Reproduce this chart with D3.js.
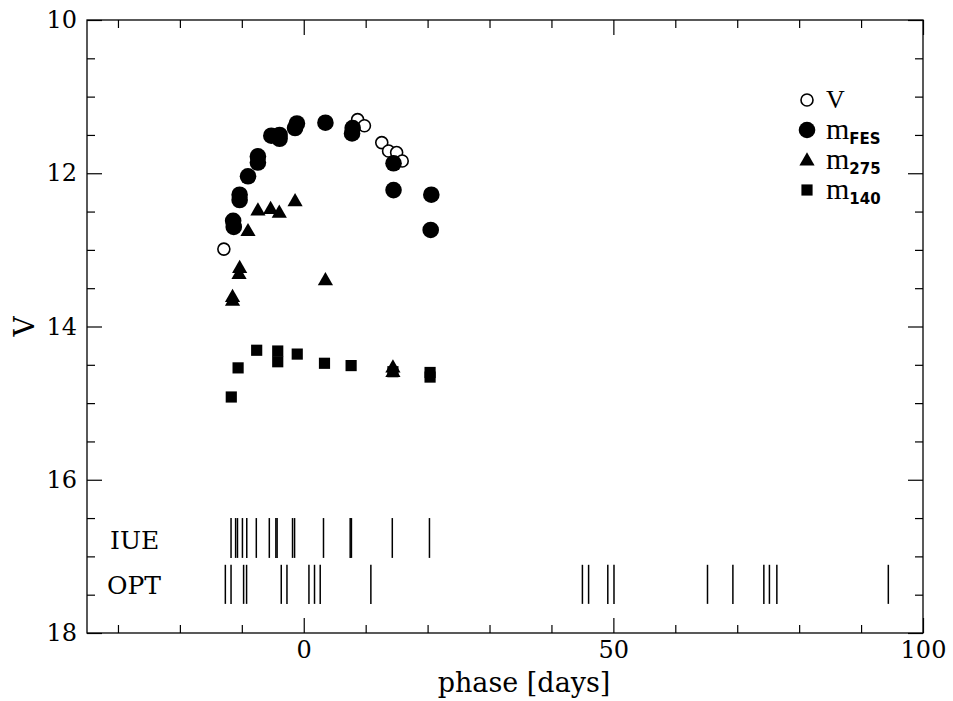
<!DOCTYPE html>
<html><head><meta charset="utf-8">
<script src="https://cdn.jsdelivr.net/npm/d3@7"></script>
<style>body{margin:0;background:#fff}svg{display:block}</style>
</head><body>
<svg id="c" width="953" height="701"></svg>
<script>
// phase [days], magnitude
const vPhase   = [-12.9, 8.7, 9.8, 12.6, 13.7, 15.0, 15.9];
const vMag     = [12.99, 11.30, 11.38, 11.60, 11.71, 11.73, 11.84];
const fesPhase = [-11.4, -11.3, -10.35, -10.35, -9.0, -7.4, -7.4, -5.24, -3.9, -3.9, -1.1, -1.4, 3.5, 7.9, 7.8, 14.5, 14.5, 20.6, 20.5];
const fesMag   = [12.62, 12.70, 12.28, 12.35, 12.04, 11.78, 11.86, 11.51, 11.55, 11.50, 11.35, 11.41, 11.34, 11.41, 11.48, 11.87, 12.22, 12.28, 12.74];
const m275Phase = [-11.5, -11.5, -10.35, -10.45, -9.0, -7.4, -5.35, -3.95, -1.4, 3.5, 14.4, 14.4];
const m275Mag   = [13.61, 13.66, 13.23, 13.31, 12.75, 12.48, 12.46, 12.51, 12.36, 13.39, 14.53, 14.59];
const m140Phase = [-11.7, -10.6, -7.6, -4.2, -4.2, -1.05, 3.35, 7.65, 14.4, 20.4, 20.4];
const m140Mag   = [14.92, 14.54, 14.31, 14.32, 14.46, 14.36, 14.48, 14.51, 14.59, 14.60, 14.66];
const iuePhase = [-11.74, -11.0, -10.7, -9.9, -9.2, -7.66, -5.56, -4.5, -4.3, -1.81, -1.48, 3.19, 7.5, 7.7, 14.3, 20.3];
const optPhase = [-12.66, -11.74, -9.71, -9.23, -3.63, -2.71, 0.84, 1.74, 2.66, 10.84, 45.0, 46.0, 49.1, 50.1, 65.2, 69.3, 74.3, 75.2, 76.4, 94.4];
const iueRange = [16.5, 17.02];
const optRange = [17.11, 17.62];
const xMajor = [0, 50, 100];
const yMajor = [10, 12, 14, 16, 18];

const svg = d3.select("#c");
const L = 87, R = 923, T = 20, B = 633;
const x = d3.scaleLinear().domain([-35, 100]).range([L, R]);
const y = d3.scaleLinear().domain([10, 18]).range([T, B]);
const serif = "'DejaVu Serif',serif";
const lserif = "'Liberation Serif',serif";

// frame
svg.append("rect").attr("x", L).attr("y", T).attr("width", R - L).attr("height", B - T)
  .attr("fill", "none").attr("stroke", "#000").attr("stroke-width", 1.3);

// ticks on all four sides
const xMinor = d3.range(-30, 101, 10);
const yMinor = d3.range(10, 18.01, 0.5);
function tickLen(isMaj) { return isMaj ? -15 : -8; }
[["bottom", B], ["top", T]].forEach(([side, pos]) => {
  const ax = (side === "bottom" ? d3.axisBottom(x) : d3.axisTop(x))
    .tickValues(xMinor).tickSize(0).tickFormat("");
  const g = svg.append("g").attr("transform", `translate(0,${pos})`).call(ax);
  g.select(".domain").remove();
  g.selectAll(".tick line").attr("y2", d => (side === "bottom" ? 1 : -1) * tickLen(xMajor.includes(d)))
    .attr("stroke", "#000").attr("stroke-width", 1.2);
});
[["left", L], ["right", R]].forEach(([side, pos]) => {
  const ax = (side === "left" ? d3.axisLeft(y) : d3.axisRight(y))
    .tickValues(yMinor).tickSize(0).tickFormat("");
  const g = svg.append("g").attr("transform", `translate(${pos},0)`).call(ax);
  g.select(".domain").remove();
  g.selectAll(".tick line").attr("x2", d => (side === "left" ? -1 : 1) * tickLen(yMajor.includes(d)))
    .attr("stroke", "#000").attr("stroke-width", 1.2);
});
// tick labels
const xl = d3.axisBottom(x).tickValues(xMajor).tickSize(0).tickPadding(8);
const gx = svg.append("g").attr("transform", `translate(0,${B})`).call(xl);
gx.select(".domain").remove();
gx.selectAll("text").attr("font-family", serif).attr("font-size", 24).attr("fill", "#000");
const yl = d3.axisLeft(y).tickValues(yMajor).tickSize(0).tickPadding(10);
const gy = svg.append("g").attr("transform", `translate(${L},0)`).call(yl);
gy.select(".domain").remove();
gy.selectAll("text").attr("font-family", serif).attr("font-size", 24).attr("fill", "#000");

svg.append("text").attr("x", 524).attr("y", 692).attr("text-anchor", "middle")
  .attr("font-family", serif).attr("font-size", 27).text("phase [days]");
svg.append("text").attr("transform", `translate(34,${y(14)}) rotate(-90)`).attr("text-anchor", "middle")
  .attr("font-family", serif).attr("font-size", 28).text("V");

// IUE / OPT epoch marks
svg.append("text").attr("x", 110).attr("y", y(16.78)).attr("dy", "0.36em")
  .attr("font-family", serif).attr("font-size", 25).text("IUE");
svg.append("text").attr("x", 107).attr("y", y(17.37)).attr("dy", "0.36em")
  .attr("font-family", serif).attr("font-size", 25).text("OPT");
svg.append("g").selectAll("line").data(iuePhase).join("line")
  .attr("x1", d => x(d)).attr("x2", d => x(d)).attr("y1", y(iueRange[0])).attr("y2", y(iueRange[1]))
  .attr("stroke", "#000").attr("stroke-width", 1.5);
svg.append("g").selectAll("line").data(optPhase).join("line")
  .attr("x1", d => x(d)).attr("x2", d => x(d)).attr("y1", y(optRange[0])).attr("y2", y(optRange[1]))
  .attr("stroke", "#000").attr("stroke-width", 1.5);

// data
const zip = (a, b) => a.map((v, i) => [v, b[i]]);
const tri = d3.symbol().type(d3.symbolTriangle).size(100);
const sq = d3.symbol().type(d3.symbolSquare).size(125);
svg.append("g").selectAll("path").data(zip(m140Phase, m140Mag)).join("path")
  .attr("d", sq).attr("transform", d => `translate(${x(d[0])},${y(d[1])})`).attr("fill", "#000");
svg.append("g").selectAll("path").data(zip(m275Phase, m275Mag)).join("path")
  .attr("d", tri).attr("transform", d => `translate(${x(d[0])},${y(d[1]) + 1})`).attr("fill", "#000");
svg.append("g").selectAll("circle").data(zip(vPhase, vMag)).join("circle")
  .attr("cx", d => x(d[0])).attr("cy", d => y(d[1])).attr("r", 6)
  .attr("fill", "#fff").attr("stroke", "#000").attr("stroke-width", 1.6);
svg.append("g").selectAll("circle").data(zip(fesPhase, fesMag)).join("circle")
  .attr("cx", d => x(d[0])).attr("cy", d => y(d[1])).attr("r", 8.3).attr("fill", "#000");

// legend
const lg = svg.append("g");
const lx = 807, ly = [100, 130, 160, 190];
lg.append("circle").attr("cx", lx).attr("cy", ly[0]).attr("r", 6).attr("fill", "#fff").attr("stroke", "#000").attr("stroke-width", 1.6);
lg.append("circle").attr("cx", lx).attr("cy", ly[1]).attr("r", 8.3).attr("fill", "#000");
lg.append("path").attr("d", tri).attr("transform", `translate(${lx},${ly[2] + 1})`).attr("fill", "#000");
lg.append("path").attr("d", sq).attr("transform", `translate(${lx},${ly[3]})`).attr("fill", "#000");
const labs = [["V", ""], ["m", "FES"], ["m", "275"], ["m", "140"]];
labs.forEach((l, i) => {
  const t = lg.append("text").attr("x", 826).attr("y", ly[i]).attr("dy", "0.3em")
    .attr("font-family", lserif).attr("font-size", l[1] ? 30 : 26).text(l[0]);
  if (l[1]) t.append("tspan").attr("dy", "0.3em").attr("font-size", 15)
    .attr("font-family", "'DejaVu Sans',sans-serif").attr("font-weight", "bold").text(l[1]);
});
</script>
</body></html>
